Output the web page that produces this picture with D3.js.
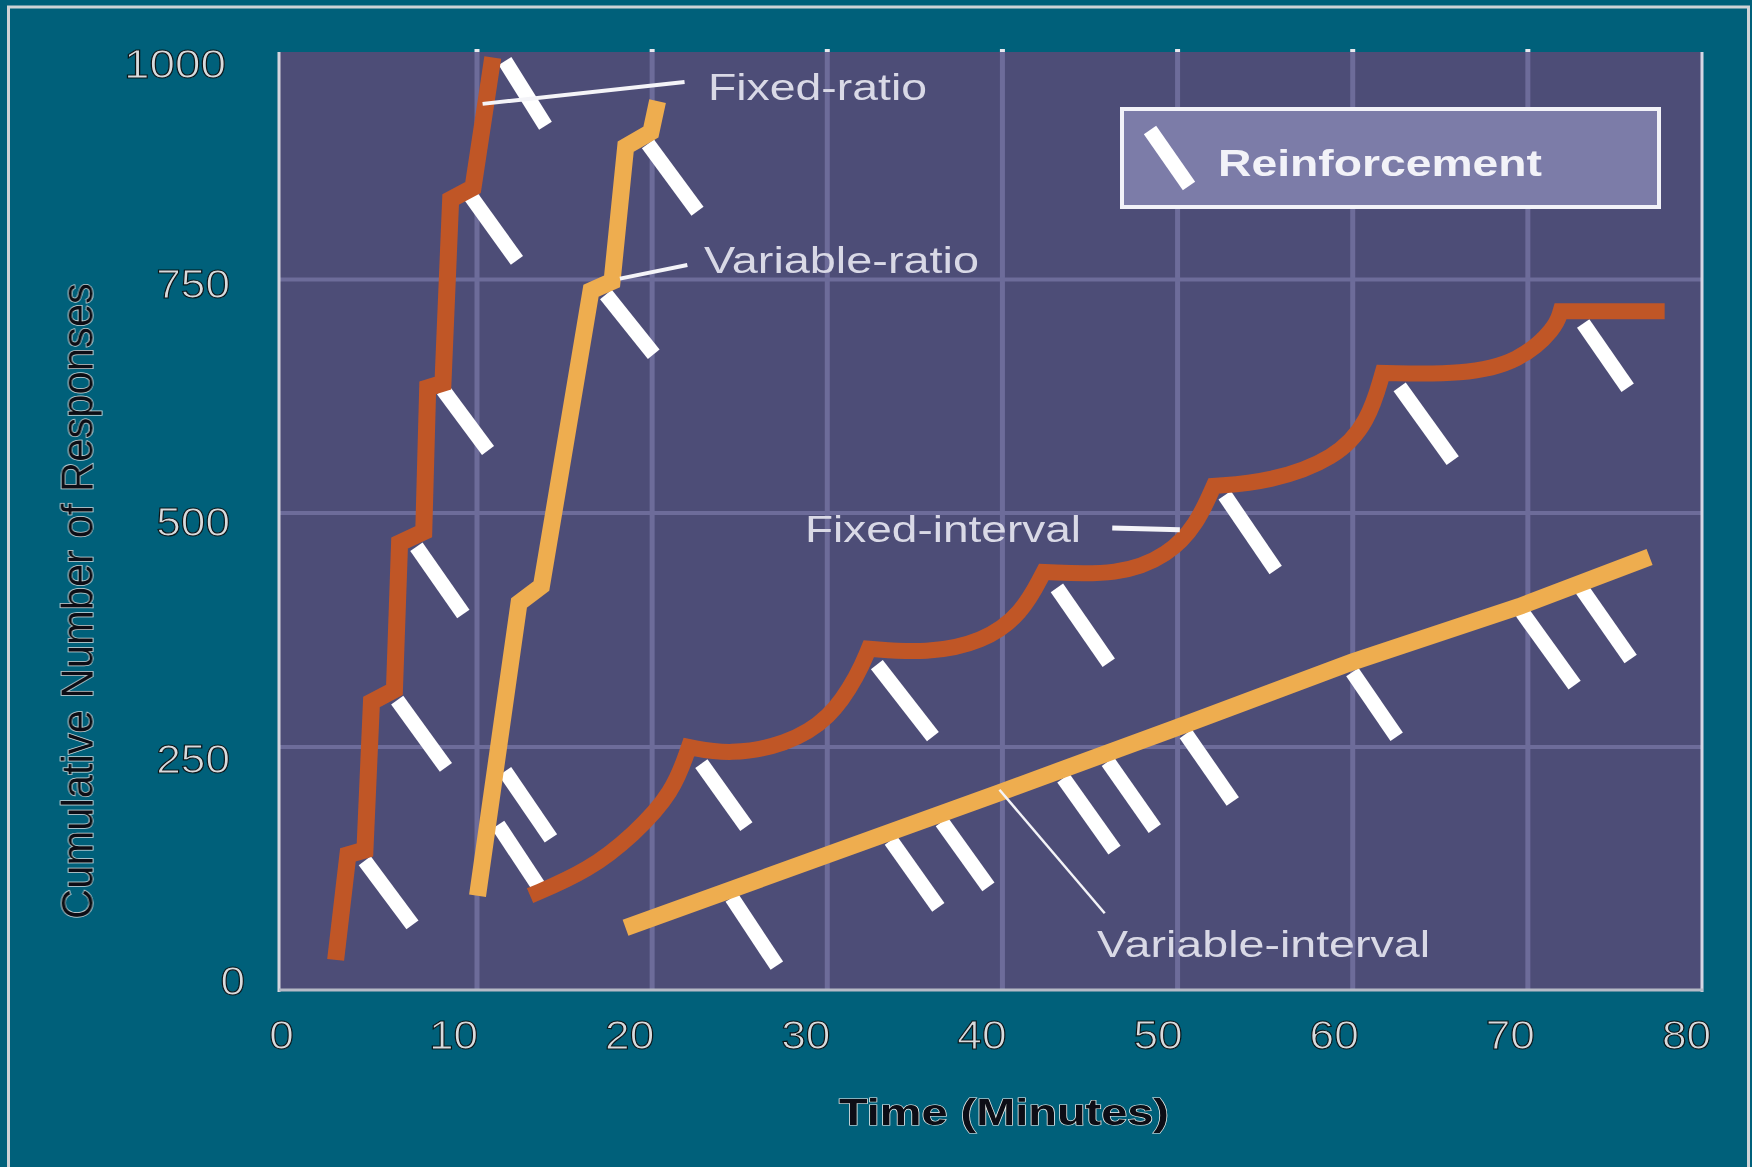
<!DOCTYPE html>
<html>
<head>
<meta charset="utf-8">
<script src="https://cdn.jsdelivr.net/npm/d3@7"></script>
<style>
    html, body { margin: 0; padding: 0; background: #02607a; }
    svg { display: block; }
    text { font-family: "Liberation Sans", Arial, sans-serif; }
</style>
</head>
<body>
<svg id="chart" width="1752" height="1167"></svg>
<script>
const xTicks = [0, 10, 20, 30, 40, 50, 60, 70, 80];
const yTicks = [0, 250, 500, 750, 1000];

const fixedRatio = [[2.86, 31], [3.48, 139], [4.34, 144], [4.67, 298], [5.83, 311], [6.09, 468],
    [7.31, 480], [7.51, 634], [8.28, 639], [8.67, 838], [9.80, 851], [10.90, 994]];
const variableRatio = [[10.03, 97], [12.40, 404], [13.68, 422], [16.51, 738], [17.71, 748],
    [18.49, 896], [19.93, 912], [20.31, 946]];
// one list per scallop, they get joined at the peaks
const fixedInterval = [
    [[13.03, 97], [16.39, 123], [18.96, 160], [21.19, 203], [22.10, 250]],
    [[22.10, 250], [24.41, 242], [27.61, 252], [30.18, 280], [31.78, 328], [32.37, 355]],
    [[32.37, 355], [35.68, 350], [38.88, 362], [41.11, 392], [42.36, 437]],
    [[42.36, 437], [46.64, 433], [49.50, 455], [51.10, 488], [52.07, 529]],
    [[52.07, 529], [55.21, 533], [59.03, 558], [60.91, 598], [61.71, 650]],
    [[61.71, 650], [66.34, 648], [69.53, 662], [71.59, 698], [71.87, 716]]
];
const fixedIntervalTail = [[71.87, 716], [77.81, 716]];
const variableInterval = [[18.48, 64], [39.83, 203], [50.13, 272], [60.0, 341], [69.5, 400], [76.95, 453]];

// reinforcement marks: [x start, y start, x end, y end]
const fixedRatioMarks = [[4.33, 133, 6.74, 67], [5.97, 300, 8.43, 229], [6.94, 464, 9.31, 392],
    [8.28, 632, 10.63, 567], [9.70, 841, 12.28, 771], [11.6, 990, 13.91, 919]];
const variableRatioMarks = [[19.76, 899, 22.59, 825], [17.36, 734, 20.09, 670],
    [11.6, 225, 14.22, 156], [11.2, 170, 13.54, 106]];
const fixedIntervalMarks = [[22.81, 233, 25.38, 168], [32.83, 338, 36.03, 261], [43.11, 420, 46.07, 340],
    [52.69, 519, 55.6, 439], [62.68, 635, 65.71, 556], [73.16, 703, 75.7, 634]];
const variableIntervalMarks = [[24.55, 95, 27.12, 25], [33.63, 154, 36.34, 85], [36.54, 173, 39.2, 106],
    [43.48, 218, 46.4, 144], [46.02, 235, 48.7, 166], [50.47, 264, 53.15, 194],
    [59.98, 330, 62.51, 261], [69.67, 394, 72.67, 316], [73.07, 419, 75.87, 344]];

const seriesNames = ['Fixed-ratio', 'Variable-ratio', 'Fixed-interval', 'Variable-interval'];
const leaders = [[10.32, 943, 21.85, 967], [18.16, 751, 22.01, 766], [46.27, 484, 50.13, 482], [39.83, 206, 45.84, 79]];
const leaderWidths = [4, 4, 5, 2.5];

const ORANGE = '#c05627';
const YELLOW = '#eead4f';

let svg = d3.select('svg#chart');

// the original grid is not evenly spaced, first column and bottom row are wider
let x = d3.scaleLinear().domain([0, 10, 80]).range([279, 477, 1703]);
let y = d3.scaleLinear().domain(yTicks).range([990, 747, 513, 279.5, 52]);
// tick labels do not sit on the grid lines either
let xLabel = d3.scaleLinear().domain([0, 10, 80]).range([281, 453, 1686]);
let yLabel = d3.scaleLinear().domain(yTicks).range([994, 772, 535.5, 297.5, 77]);

let defs = svg.append('defs');
defs.append('filter')
    .attr('id', 'soft')
    .attr('x', '-5%').attr('y', '-5%').attr('width', '110%').attr('height', '110%')
    .append('feGaussianBlur')
    .attr('stdDeviation', 0.7);
defs.append('filter')
    .attr('id', 'softer')
    .attr('x', '-5%').attr('y', '-5%').attr('width', '110%').attr('height', '110%')
    .append('feGaussianBlur')
    .attr('stdDeviation', 0.35);

let root = svg.append('g').attr('filter', 'url(#soft)');
let textLayer = svg.append('g').attr('filter', 'url(#softer)');

root.append('rect').attr('width', 1752).attr('height', 1167).attr('fill', '#02607a');
// outer frame runs off the bottom
root.append('rect')
    .attr('x', 8.5).attr('y', 7).attr('width', 1740).attr('height', 1200)
    .attr('fill', 'none').attr('stroke', '#cfd3d6').attr('stroke-width', 3);

root.append('rect')
    .attr('x', x(0)).attr('y', y(1000))
    .attr('width', x(80) - x(0)).attr('height', y(0) - y(1000))
    .attr('fill', '#4e4d77');

// grid
root.selectAll('.gridx')
    .data(xTicks.slice(1, -1))
    .enter().append('line')
    .attr('class', 'gridx')
    .attr('x1', d => x(d)).attr('x2', d => x(d))
    .attr('y1', y(1000)).attr('y2', y(0))
    .attr('stroke', '#6d6c9a').attr('stroke-width', 5);
root.selectAll('.stub')
    .data(xTicks.slice(1, -1))
    .enter().append('line')
    .attr('class', 'stub')
    .attr('x1', d => x(d)).attr('x2', d => x(d))
    .attr('y1', y(1000) - 3).attr('y2', y(1000))
    .attr('stroke', '#e8e8ee').attr('stroke-width', 5);
root.selectAll('.gridy')
    .data(yTicks.slice(1, -1))
    .enter().append('line')
    .attr('class', 'gridy')
    .attr('x1', x(0)).attr('x2', x(80))
    .attr('y1', d => y(d)).attr('y2', d => y(d))
    .attr('stroke', '#6d6c9a').attr('stroke-width', 4);

// axis lines
root.append('line').attr('x1', x(0)).attr('x2', x(0)).attr('y1', y(1000)).attr('y2', y(0) + 2)
    .attr('stroke', '#d5d6de').attr('stroke-width', 3);
root.append('line').attr('x1', x(80) - 1).attr('x2', x(80) - 1).attr('y1', y(1000)).attr('y2', y(0) + 2)
    .attr('stroke', '#d5d6e4').attr('stroke-width', 3);
root.append('line').attr('x1', x(0)).attr('x2', x(80)).attr('y1', y(0)).attr('y2', y(0))
    .attr('stroke', '#b5bac6').attr('stroke-width', 3);

// reinforcement marks sit under the curves
let allMarks = fixedRatioMarks.concat(variableRatioMarks, fixedIntervalMarks, variableIntervalMarks);
root.selectAll('.mark')
    .data(allMarks)
    .enter().append('line')
    .attr('class', 'mark')
    .attr('x1', d => x(d[0])).attr('y1', d => y(d[1]))
    .attr('x2', d => x(d[2])).attr('y2', d => y(d[3]))
    .attr('stroke', '#ffffff').attr('stroke-width', 15);

let line = d3.line().x(d => x(d[0])).y(d => y(d[1]));
let smooth = d3.line().x(d => x(d[0])).y(d => y(d[1])).curve(d3.curveBasis);

function drawCurve(d, color, width) {
    root.append('path')
        .attr('d', d)
        .attr('fill', 'none')
        .attr('stroke', color)
        .attr('stroke-width', width)
        .attr('stroke-linejoin', 'miter')
        .attr('stroke-miterlimit', 6);
}
// M -> L after the first scallop so the peaks are real joins
let scallops = fixedInterval.map(s => smooth(s)).join('') + line(fixedIntervalTail);
scallops = 'M' + scallops.slice(1).replace(/M/g, 'L');

drawCurve(line(variableInterval), YELLOW, 17);
drawCurve(scallops, ORANGE, 16);
drawCurve(line(fixedRatio), ORANGE, 17);
drawCurve(line(variableRatio), YELLOW, 17);

// leader lines
root.selectAll('.leader')
    .data(leaders)
    .enter().append('line')
    .attr('class', 'leader')
    .attr('x1', d => x(d[0])).attr('y1', d => y(d[1]))
    .attr('x2', d => x(d[2])).attr('y2', d => y(d[3]))
    .attr('stroke', '#f4f4f8')
    .attr('stroke-width', (d, i) => leaderWidths[i]);

// series labels, the source lettering is stretched sideways so textLength is used
function label(txt, lx, ly, w, size, fill, weight) {
    return textLayer.append('text')
        .text(txt)
        .attr('x', lx).attr('y', ly)
        .attr('font-size', size)
        .attr('font-weight', weight || 'normal')
        .attr('fill', fill)
        .attr('textLength', w)
        .attr('lengthAdjust', 'spacingAndGlyphs');
}
label(seriesNames[0], 708, 100, 219, 37, '#d9d9e6');
label(seriesNames[1], 704, 272.5, 275, 37, '#d9d9e6');
label(seriesNames[2], 805, 541.5, 276, 37, '#d9d9e6');
label(seriesNames[3], 1097, 957, 333, 37, '#d9d9e6');

// legend
root.append('rect')
    .attr('x', 1122).attr('y', 109).attr('width', 537).attr('height', 98)
    .attr('fill', '#7c7ba8').attr('stroke', '#f2f2f8').attr('stroke-width', 4);
root.append('line')
    .attr('x1', 1150).attr('y1', 130).attr('x2', 1189).attr('y2', 186)
    .attr('stroke', '#ffffff').attr('stroke-width', 15);
label('Reinforcement', 1218, 176, 324, 37, '#f2f2f8', 'bold');

// tick labels, the source has white text with a dark rim
let labelStyle = sel => sel
    .attr('fill', '#d8dadc')
    .attr('stroke', '#0c1418')
    .attr('stroke-width', 1.1)
    .attr('font-family', '"Liberation Sans", Arial, sans-serif')
    .attr('font-size', 41)
    .attr('lengthAdjust', 'spacingAndGlyphs')
    .attr('textLength', d => String(d).length * (d === 1000 ? 25.5 : 24.6));

let xAxis = textLayer.append('g')
    .attr('transform', 'translate(0,1049)')
    .call(d3.axisBottom(xLabel).tickValues(xTicks).tickSize(0).tickFormat(d3.format('d')));
xAxis.select('.domain').remove();
xAxis.selectAll('text')
    .attr('y', 0).attr('dy', 0)
    .call(labelStyle);

let yAxis = textLayer.append('g')
    .call(d3.axisLeft(yLabel).tickValues(yTicks).tickSize(0).tickFormat(d3.format('d')));
yAxis.select('.domain').remove();
yAxis.selectAll('text')
    .attr('dy', 0)
    .attr('text-anchor', 'end')
    .attr('x', d => d === 0 ? 245 : d === 1000 ? 226 : 230)
    .call(labelStyle);

// axis titles, dark with a thin light rim
label('Time (Minutes)', 839, 1124.6, 330, 37, '#0a0f12', 'bold')
    .attr('stroke', '#f0f0f0').attr('stroke-width', 1.2).attr('paint-order', 'stroke');
textLayer.append('text')
    .text('Cumulative Number of Responses')
    .attr('transform', 'translate(92.6,919) rotate(-90)')
    .attr('font-size', 45)
    .attr('fill', '#0a0f12')
    .attr('stroke', '#e8ecef')
    .attr('stroke-width', 1.4)
    .attr('paint-order', 'stroke')
    .attr('textLength', 636)
    .attr('lengthAdjust', 'spacingAndGlyphs');
</script>
</body>
</html>
